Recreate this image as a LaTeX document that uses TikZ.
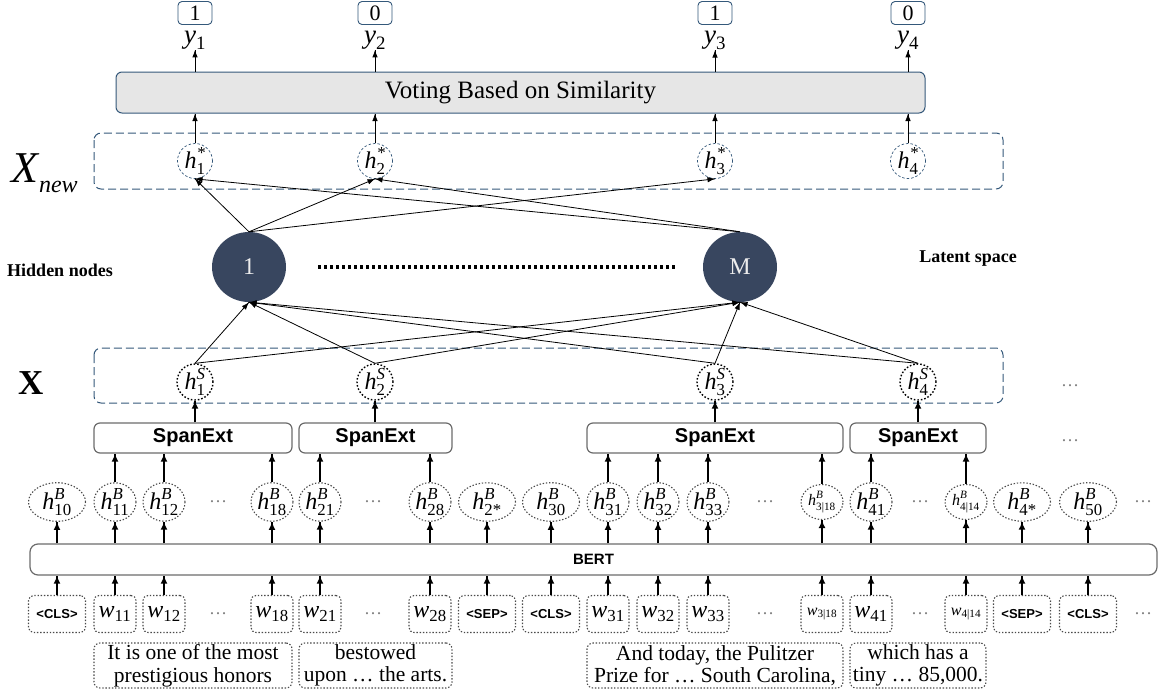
\documentclass[tikz,border=0pt]{standalone}
\usepackage{amsmath}
\usepackage{fontspec}
\setmainfont{Liberation Serif}
\setsansfont{Liberation Sans}
\usepackage{tikz}
\usetikzlibrary{arrows.meta}
\usetikzlibrary{decorations.markings}
\usetikzlibrary{shapes.geometric}
\usetikzlibrary{positioning}

\definecolor{navy}{HTML}{38465F}
\definecolor{boxblue}{HTML}{34587A}
\definecolor{votegray}{HTML}{E6E6E6}
\definecolor{framegray}{HTML}{6B6B6B}
\definecolor{dotgray}{HTML}{4A4A4A}

\newcommand{\fs}[1]{\fontsize{#1}{#1}\selectfont}
\newcommand{\hsym}[2]{$\textit{h}^{\textit{#1}}_{\textup{#2}}$}
\newcommand{\wsym}[1]{$\textit{w}_{\textup{#1}}$}
\newcommand{\tok}[1]{{\sffamily\bfseries\fs{13}#1}}

\tikzset{arr/.style = {line width=0.8pt, decoration={markings,
                                  mark=at position 1 with {\arrow{Latex[length=7.5pt, width=5.5pt]}}},
                       postaction={decorate}}}
\tikzset{arrb/.style = {line width=1.6pt, decoration={markings,
                                  mark=at position 1 with {\arrow{Latex[length=8pt, width=7pt]}}},
                        postaction={decorate}}}
\tikzset{groupbox/.style = {draw=boxblue, line width=1pt, dash pattern=on 8pt off 4pt, rounded corners=7pt}}
\tikzset{outbox/.style = {draw=boxblue, line width=0.9pt, rounded corners=4pt, minimum width=34pt,
                          minimum height=23pt, inner sep=0pt, font=\fs{22}}}
\tikzset{ylab/.style = {inner sep=0pt, anchor=base, font=\fs{27}}}
\tikzset{votebox/.style = {draw=boxblue, fill=votegray, line width=1pt, rounded corners=6pt,
                           minimum width=809pt, minimum height=41pt, inner sep=0pt, font=\fs{25}}}
\tikzset{hstar/.style = {circle, draw=boxblue, line width=0.7pt, dash pattern=on 2.5pt off 2pt,
                         minimum size=35pt, inner sep=0pt, font=\fs{24}}}
\tikzset{hidden/.style = {ellipse, fill=navy, minimum width=74pt, minimum height=70pt,
                          inner sep=0pt, text=white!85!gray, font=\fs{24}}}
\tikzset{hspan/.style = {circle, draw=black, line width=1.4pt, dash pattern=on 1.6pt off 1.9pt,
                         minimum size=36pt, inner sep=0pt, font=\fs{24}}}
\tikzset{spanbox/.style = {draw=framegray, line width=1.2pt, rounded corners=6pt, minimum height=30pt,
                           inner sep=0pt, font=\sffamily\bfseries\fs{20}}}
\tikzset{hbert/.style = {ellipse, draw=dotgray, line width=1.1pt, dash pattern=on 1.4pt off 1.8pt,
                         minimum height=35pt, inner sep=0pt, font=\fs{24}}}
\tikzset{wbox/.style = {draw=dotgray, line width=1.1pt, dash pattern=on 1.4pt off 1.8pt, rounded corners=5pt,
                        minimum height=37pt, inner sep=0pt, font=\fs{24}}}
\tikzset{textbox/.style = {draw=dotgray, line width=1.1pt, dash pattern=on 1.4pt off 1.8pt, rounded corners=6pt,
                           minimum height=45pt, inner sep=0pt, align=center, font=\fontsize{21.5}{22.5}\selectfont}}
\tikzset{sidelab/.style = {inner sep=0pt, font=\bfseries\fs{18}}}
\tikzset{dottxt/.style = {inner sep=0pt, text=gray, font=\fs{18}}}

\begin{document}
\begin{tikzpicture}[x=1pt, y=-1pt]
  \useasboundingbox (0,0) rectangle (1159,696);
  % dashed frames of the two span sets
  \draw[groupbox] (94,133) rectangle (1003,189);
  \draw[groupbox] (94,348) rectangle (1003,403);
  \node[anchor=base west, inner sep=0pt] (lxnew) at (11,182)
    {{\fs{44}\itshape X}\hspace{1pt}\raisebox{-10pt}{\fs{24}\itshape new}};
  \node[anchor=base west, inner sep=0pt, font=\bfseries\fs{35}] (lx) at (18,394) {X};
  \node[sidelab] (lhid) at (60,270) {Hidden nodes};
  \node[sidelab] (llat) at (968,259) {Latent space};

  % voting and outputs
  \node[votebox] (vote) at (520.5,92.5) {Voting Based on Similarity};
  \foreach \i/\px/\val in {1/195/1, 2/375/0, 3/715/1, 4/908/0} {
    \node[outbox] (out\i) at (\px,13) {\val};
    \node[ylab] (y\i) at (\px,43) {$\textit{y}_{\textup{\i}}$};
    \node[hstar] (hs\i) at (\px,161) {\hsym{*}{\i}};
    \draw[arr] (vote.north -| y\i) -- (y\i.south);
    \draw[arr] (hs\i.north) -- (hs\i |- vote.south);
  }

  % hidden nodes
  \node[hidden] (n1) at (249,267) {1};
  \node[hidden] (nM) at (740,267) {M};
  \draw[line width=3.2pt, dash pattern=on 3.2pt off 2.8pt, shorten <=32pt, shorten >=25pt]
    (n1.east) -- (nM.west);

  % span representations and extractors
  \foreach \i/\px/\sx/\sw in {1/195/193/198, 2/375/375.5/153, 3/715/715/256, 4/918/918/136} {
    \node[hspan] (hS\i) at (\px,382) {\hsym{S}{\i}};
    \node[spanbox, minimum width=\sw pt] (sp\i) at (\sx,438) {SpanExt};
    \draw[arrb] (hS\i.south |- sp\i.north) -- (hS\i.south);
    \draw[arr] (hS\i.north) -- (n1.south);
    \draw[arr] (hS\i.north) -- (nM.south);
  }
  \foreach \i in {1,2,3}
    \draw[arr] (n1.north) -- (hs\i.south);
  \foreach \i in {1,2}
    \draw[arr] (nM.north) -- (hs\i.south);
  \node[dottxt] (dX) at (1070,386) {\dots};
  \node[dottxt] (dSp) at (1070,441) {\dots};

  % BERT with tokens
  \node[draw=framegray, line width=1.2pt, rounded corners=8pt, minimum width=1127pt, minimum height=31pt,
        inner sep=0pt, font=\sffamily\bfseries\fs{15}] (bert) at (593.5,559.5) {BERT};
  \foreach \i/\px/\bw/\hlab/\wlab in {
      0/57/57/{\hsym{B}{10}}/{\tok{<CLS>}},
      1/115/42/{\hsym{B}{11}}/{\wsym{11}},
      2/164/42/{\hsym{B}{12}}/{\wsym{12}},
      3/272/42/{\hsym{B}{18}}/{\wsym{18}},
      4/320/42/{\hsym{B}{21}}/{\wsym{21}},
      5/430/42/{\hsym{B}{28}}/{\wsym{28}},
      6/487/57/{\hsym{B}{2*}}/{\tok{<SEP>}},
      7/551/57/{\hsym{B}{30}}/{\tok{<CLS>}},
      8/608/42/{\hsym{B}{31}}/{\wsym{31}},
      9/658/42/{\hsym{B}{32}}/{\wsym{32}},
      10/708/42/{\hsym{B}{33}}/{\wsym{33}},
      11/822/42/{\fs{16}\hsym{B}{3|18}}/{\fs{16}\wsym{3|18}},
      12/871/42/{\hsym{B}{41}}/{\wsym{41}},
      13/966/42/{\fs{16}\hsym{B}{4|14}}/{\fs{16}\wsym{4|14}},
      14/1022/57/{\hsym{B}{4*}}/{\tok{<SEP>}},
      15/1088/57/{\hsym{B}{50}}/{\tok{<CLS>}}} {
    \node[hbert, minimum width=\bw pt] (hb\i) at (\px,502) {\hlab};
    \node[wbox, minimum width=\bw pt] (w\i) at (\px,614) {\wlab};
    \draw[arrb] (bert.north -| hb\i) -- (hb\i.south);
    \draw[arrb] (w\i.north) -- (w\i |- bert.south);
  }
  \foreach \px in {218,373,765,920,1143} {
    \node[dottxt] (dh\px) at (\px,502) {\dots};
    \node[dottxt] (dw\px) at (\px,614) {\dots};
  }
  \foreach \j/\s in {1/1, 2/1, 3/1, 4/2, 5/2, 8/3, 9/3, 10/3, 11/3, 12/4, 13/4}
    \draw[arrb] (hb\j.north) -- (hb\j |- sp\s.south);

  % sentences
  \node[textbox, minimum width=198pt] (tx1) at (193,665.5) {It is one of the most\\prestigious honors};
  \node[textbox, minimum width=153pt] (tx2) at (375.5,665.5) {bestowed\\upon … the arts.};
  \node[textbox, minimum width=256pt] (tx3) at (715,665.5) {And today, the Pulitzer\\Prize for … South Carolina,};
  \node[textbox, minimum width=136pt] (tx4) at (918,665.5) {which has a\\tiny … 85,000.};
\end{tikzpicture}
\end{document}
